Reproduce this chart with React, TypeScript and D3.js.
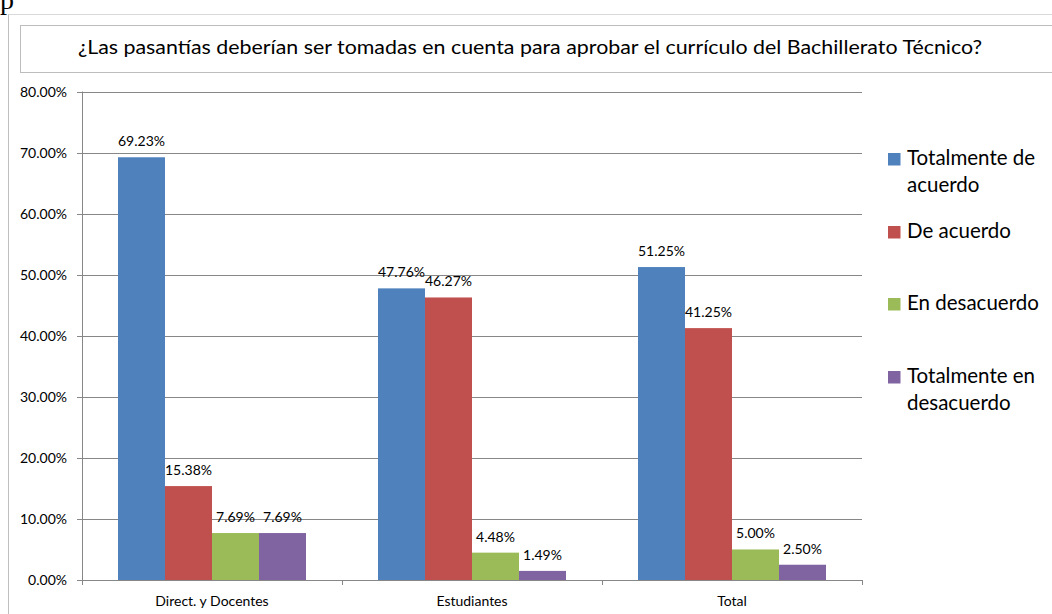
import React from "react";
import * as d3 from "d3";

const title = "¿Las pasantías deberían ser tomadas en cuenta para aprobar el currículo del Bachillerato Técnico?";
const categories = ["Direct. y Docentes", "Estudiantes", "Total"];
const seriesNames = ["Totalmente de acuerdo", "De acuerdo", "En desacuerdo", "Totalmente en desacuerdo"];
const legendLines = [["Totalmente de", "acuerdo"], ["De acuerdo"], ["En desacuerdo"], ["Totalmente en", "desacuerdo"]];
const seriesColors = ["#4F81BD", "#C0504D", "#9BBB59", "#8064A2"];
const totalmenteDeAcuerdo = [0.6923, 0.4776, 0.5125];
const deAcuerdo = [0.1538, 0.4627, 0.4125];
const enDesacuerdo = [0.0769, 0.0448, 0.05];
const totalmenteEnDesacuerdo = [0.0769, 0.0149, 0.025];
const seriesValues = [totalmenteDeAcuerdo, deAcuerdo, enDesacuerdo, totalmenteEnDesacuerdo];
const yTicks = [0, 0.1, 0.2, 0.3, 0.4, 0.5, 0.6, 0.7, 0.8];

const FONT = "Lato, 'Open Sans', sans-serif";

export default function App() {
  const W = 1052, H = 614;
  const left = 82, right = 862, top = 91.5, bottom = 580;
  const x0 = d3.scaleBand<string>().domain(categories).range([left, right]).paddingInner(0).paddingOuter(0);
  const inner = d3.scaleBand<string>().domain(seriesNames).range([0, x0.bandwidth()]).paddingInner(0).paddingOuter(0.766);
  const y = d3.scaleLinear().domain([0, 0.8]).range([bottom, top]);
  const fmt = d3.format(".2%");
  const legendY = [153, 226, 298, 371];

  return (
    <svg width={W} height={H} style={{ position: "absolute", left: 0, top: 0, background: "#fff" }} fontFamily={FONT}>
      <rect x={0} y={0} width={W} height={H} fill="#fff" />
      <text x={0} y={9} fontFamily="'Liberation Serif', 'DejaVu Serif', serif" fontSize={28} fill="#000">p</text>
      <line x1={8.5} y1={14.5} x2={W} y2={14.5} stroke="#d9d9d9" />
      <line x1={8.5} y1={14.5} x2={8.5} y2={H} stroke="#bfbfbf" />
      <rect x={20.5} y={25.5} width={1040} height={47} fill="#fff" stroke="#bdbdbd" />
      <text x={530} y={54} textAnchor="middle" fontSize={18.5} fill="#000" textLength={904} lengthAdjust="spacingAndGlyphs">{title}</text>

      {yTicks.map((t) => (
        <g key={t}>
          <line x1={left} x2={right} y1={Math.round(y(t)) + 0.5} y2={Math.round(y(t)) + 0.5} stroke="#878787" />
          <line x1={left - 5} x2={left} y1={Math.round(y(t)) + 0.5} y2={Math.round(y(t)) + 0.5} stroke="#878787" />
          <text x={67} y={y(t) + 5} textAnchor="end" fontSize={14} fill="#000">{fmt(t)}</text>
        </g>
      ))}
      <line x1={left + 0.5} x2={left + 0.5} y1={top} y2={bottom} stroke="#878787" />
      {[...categories.map((c) => x0(c) as number), right].map((v, i) => (
        <line key={i} x1={Math.round(v) + 0.5} x2={Math.round(v) + 0.5} y1={bottom} y2={bottom + 5} stroke="#878787" />
      ))}
      {categories.map((c) => (
        <text key={c} x={(x0(c) as number) + x0.bandwidth() / 2} y={606} textAnchor="middle" fontSize={14} fill="#000">{c}</text>
      ))}

      {categories.map((c, ci) => (
        <g key={c}>
          {seriesNames.map((s, si) => {
            const v = seriesValues[si][ci];
            const bx = (x0(c) as number) + (inner(s) as number);
            const bw = inner.bandwidth();
            return (
              <g key={s}>
                <rect x={bx} y={y(v)} width={bw} height={bottom - y(v)} fill={seriesColors[si]} />
                <text x={bx + bw / 2} y={y(v) - 11} textAnchor="middle" fontSize={14} fill="#000">{fmt(v)}</text>
              </g>
            );
          })}
        </g>
      ))}

      {seriesNames.map((s, i) => (
        <g key={s}>
          <rect x={888} y={legendY[i]} width={12.5} height={12.5} fill={seriesColors[i]} />
          {legendLines[i].map((ln, j) => (
            <text key={j} x={907} y={legendY[i] + 12 + j * 27} fontSize={20.5} fill="#000">{ln}</text>
          ))}
        </g>
      ))}
    </svg>
  );
}
